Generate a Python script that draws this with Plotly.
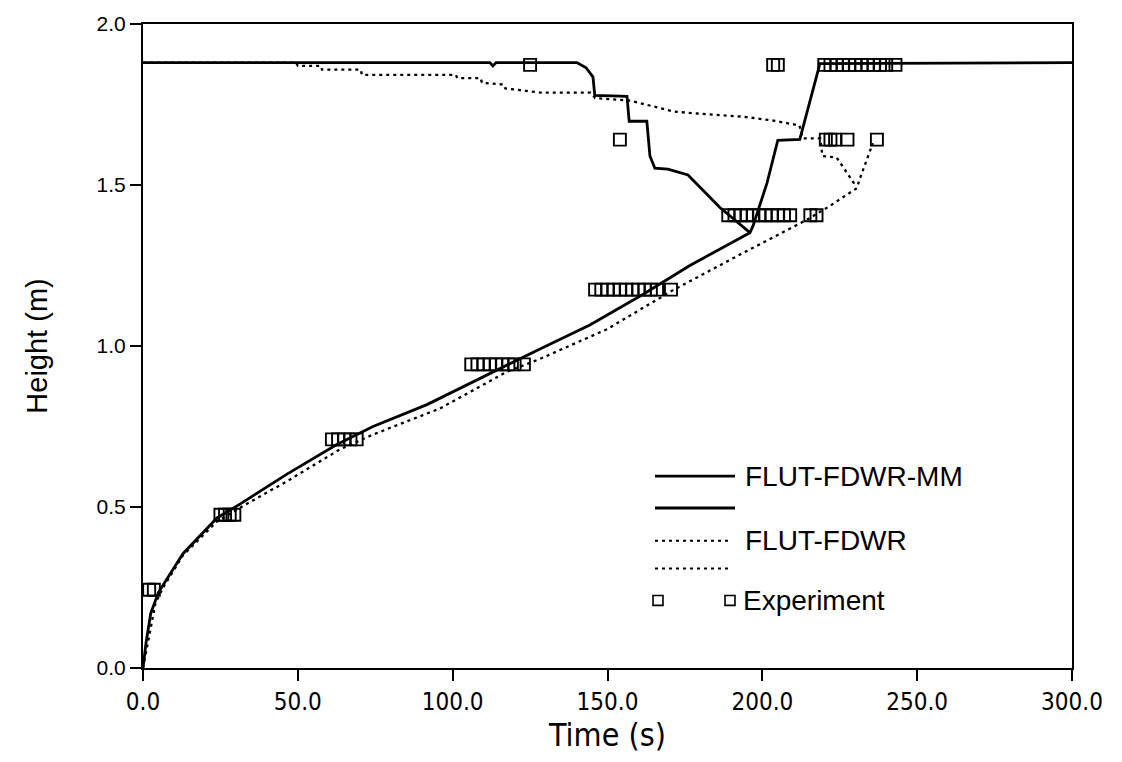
import plotly.graph_objects as go

# ---------------- data ----------------
# FLUT-FDWR-MM : bottom quench front (rising) and top quench front (falling)
mm_bot_t = [0, 1.0, 2.5, 5.0, 12.9, 23.9, 31.3, 46.5, 62.6, 74.3, 91.7, 106.6, 117.5,
            128.2, 144.3, 161.4, 176.6, 187.3, 196.0, 197.0, 201.5, 205.0, 212.1, 218.6, 300.0]
mm_bot_h = [0.0, 0.08, 0.17, 0.235, 0.355, 0.466, 0.509, 0.602, 0.694, 0.75, 0.818, 0.889, 0.941,
            0.991, 1.065, 1.16, 1.25, 1.306, 1.352, 1.373, 1.506, 1.639, 1.642, 1.877, 1.88]
mm_top_t = [0, 112.0, 113.0, 114.0, 140.1, 143.0, 145.3, 145.9, 156.3, 157.0, 162.7, 163.7,
            165.3, 169.5, 176.0, 186.3, 196.0]
mm_top_h = [1.88, 1.88, 1.87, 1.88, 1.88, 1.865, 1.836, 1.778, 1.775, 1.698, 1.698, 1.59,
            1.552, 1.549, 1.531, 1.43, 1.352]

# FLUT-FDWR : bottom and top quench fronts
fd_bot_t = [0, 2.0, 4.0, 6.5, 12.9, 23.9, 32.3, 46.5, 63.6, 74.3, 95.9, 117.5, 128.2,
            149.8, 171.1, 192.8, 214.4, 221.8, 230.5, 231.5, 233.8, 235.7]
fd_bot_h = [0.0, 0.1, 0.2, 0.25, 0.35, 0.455, 0.503, 0.58, 0.679, 0.725, 0.806, 0.92, 0.96,
            1.052, 1.173, 1.284, 1.392, 1.435, 1.49, 1.52, 1.577, 1.63]
fd_top_t = [0, 49.4, 50.0, 57.4, 57.8, 70.3, 70.7, 101.0, 101.5, 109.0, 109.5, 116.5, 117.0,
            128.4, 144.5, 146.0, 157.4, 164.0, 171.3, 179.0, 194.0, 203.5, 212.0, 213.0,
            218.7, 219.4, 224.0, 230.0]
fd_top_h = [1.88, 1.88, 1.87, 1.87, 1.858, 1.858, 1.842, 1.842, 1.832, 1.832, 1.817, 1.812, 1.80,
            1.787, 1.787, 1.77, 1.762, 1.747, 1.728, 1.722, 1.712, 1.70, 1.685, 1.645,
            1.645, 1.59, 1.585, 1.50]

# Experiment (thermocouple levels and quench times)
exp_levels = [0.243, 0.476, 0.71, 0.943, 1.175, 1.406, 1.641, 1.873]
exp_times = [
    [2.0, 3.5],
    [25.0, 26.5, 28.0, 29.5],
    [61.0, 63.0, 65.0, 67.0, 69.0],
    [106.0, 108.0, 110.0, 112.0, 114.0, 116.0, 118.0, 120.0, 123.0],
    [146.0, 148.0, 150.0, 152.0, 154.0, 156.0, 158.0, 160.0, 162.0, 164.0, 166.0, 170.5],
    [189.0, 191.0, 193.0, 195.0, 197.0, 199.0, 201.0, 203.0, 205.0, 207.0, 209.0, 215.5, 217.5],
    [154.0, 220.5, 222.0, 223.5, 227.5, 237.0],
    [125.0, 203.5, 205.0, 220.0, 222.0, 224.0, 226.0, 228.0, 230.0, 232.0, 234.0, 236.0,
     238.0, 240.0, 243.0],
]

x_ticks = [0, 50, 100, 150, 200, 250, 300]
x_labels = ["0.0", "50.0", "100.0", "150.0", "200.0", "250.0", "300.0"]
y_ticks = [0.0, 0.5, 1.0, 1.5, 2.0]
y_labels = ["0.0", "0.5", "1.0", "1.5", "2.0"]

# ---------------- figure ----------------
W, H = 1122, 762
ML, MR, MT, MB = 143, 50, 20, 94
NARROW = "DejaVu Sans Condensed, Liberation Sans Narrow, Liberation Sans, sans-serif"
REG = "Liberation Sans, Arial, sans-serif"

fig = go.Figure()
solid = dict(color="black", width=2.8)
dotted = dict(color="black", width=2.3, dash="3px,4px")

fig.add_trace(go.Scatter(x=mm_top_t, y=mm_top_h, mode="lines", line=solid, name="FLUT-FDWR-MM"))
fig.add_trace(go.Scatter(x=mm_bot_t, y=mm_bot_h, mode="lines", line=solid, name=" "))
fig.add_trace(go.Scatter(x=fd_top_t, y=fd_top_h, mode="lines", line=dotted, name="FLUT-FDWR"))
fig.add_trace(go.Scatter(x=fd_bot_t, y=fd_bot_h, mode="lines", line=dotted, name="  "))

ex, ey = [], []
for lev, ts in zip(exp_levels, exp_times):
    for t in ts:
        ex.append(t)
        ey.append(lev)
fig.add_trace(go.Scatter(x=ex, y=ey, mode="markers", name="Experiment", cliponaxis=False,
                         marker=dict(symbol="square-open", size=12, color="black",
                                     line=dict(width=1.9, color="black"))))


def px(x):
    return (x - ML) / (W - ML - MR)


def py(y):
    return (H - MB - y) / (H - MT - MB)


# hand-drawn legend (matches the original two-symbol layout)
shapes = []
annotations = []
rows = [(475, "solid", "FLUT-FDWR-MM"), (507, "solid", None),
        (540, "dot", "FLUT-FDWR"), (568, "dot", None)]
for yy, kind, label in rows:
    shapes.append(dict(type="line", xref="paper", yref="paper",
                       x0=px(655), x1=px(735 if kind == "solid" else 728),
                       y0=py(yy), y1=py(yy),
                       line=dict(color="black", width=2.8 if kind == "solid" else 2.0,
                                 dash="solid" if kind == "solid" else "3px,4px")))
    if label:
        annotations.append(dict(text=label, xref="paper", yref="paper", x=px(743), y=py(yy),
                                xanchor="left", yanchor="middle", showarrow=False,
                                font=dict(family=REG, size=28, color="black")))
exp_row = 600
for cx in (658, 730):
    shapes.append(dict(type="rect", xref="paper", yref="paper",
                       x0=px(cx - 5), x1=px(cx + 5), y0=py(exp_row + 5), y1=py(exp_row - 5),
                       line=dict(color="black", width=1.6)))
annotations.append(dict(text="Experiment", xref="paper", yref="paper", x=px(741), y=py(exp_row),
                        xanchor="left", yanchor="middle", showarrow=False,
                        font=dict(family=REG, size=28, color="black")))

fig.update_layout(
    width=W, height=H,
    margin=dict(l=ML, r=MR, t=MT, b=MB),
    paper_bgcolor="white", plot_bgcolor="white",
    showlegend=False,
    shapes=shapes, annotations=annotations,
    xaxis=dict(range=[0, 300], tickvals=x_ticks, ticktext=x_labels,
               ticks="outside", ticklen=11, tickwidth=1.5, tickcolor="black",
               showline=True, linewidth=2, linecolor="black", mirror=True,
               showgrid=False, zeroline=False,
               tickfont=dict(family=NARROW, size=24, color="black"),
               title=dict(text="Time (s)", standoff=8,
                          font=dict(family=NARROW, size=32, color="black"))),
    yaxis=dict(range=[0, 2], tickvals=y_ticks, ticktext=y_labels,
               ticks="outside", ticklen=11, tickwidth=1.5, tickcolor="black",
               showline=True, linewidth=2, linecolor="black", mirror=True,
               showgrid=False, zeroline=False,
               tickfont=dict(family=REG, size=21, color="black"),
               title=dict(text="Height (m)", standoff=40,
                          font=dict(family=REG, size=29, color="black"))),
)

fig.write_html("out.html")
